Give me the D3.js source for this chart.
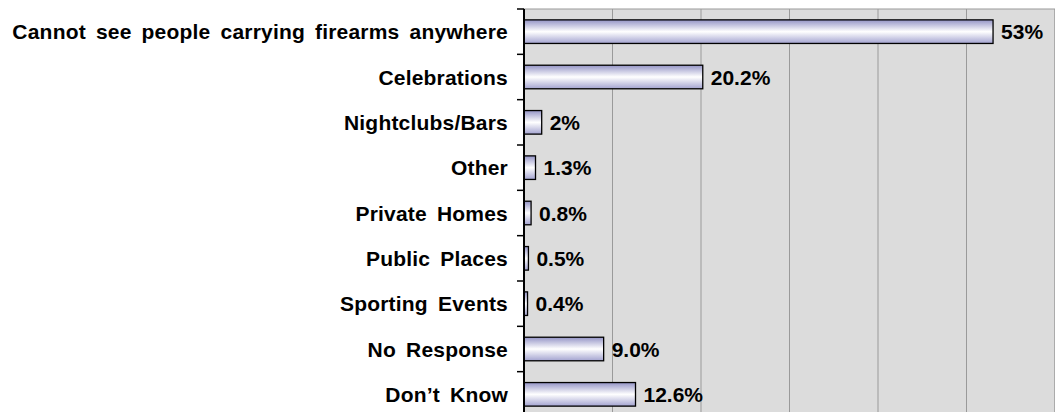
<!DOCTYPE html>
<html>
<head>
<meta charset="utf-8">
<script src="https://cdn.jsdelivr.net/npm/d3@7"></script>
<style>
  html, body { margin: 0; padding: 0; background: #fff; }
  svg { display: block; font-family: "Liberation Sans", Arial, sans-serif; }
</style>
</head>
<body>
<div id="chart"></div>
<script>
// categories and values
const categories = [
  'Cannot see people carrying firearms anywhere',
  'Celebrations',
  'Nightclubs/Bars',
  'Other',
  'Private Homes',
  'Public Places',
  'Sporting Events',
  'No Response',
  'Don\u2019t Know'
];
const values = [53, 20.2, 2, 1.3, 0.8, 0.5, 0.4, 9.0, 12.6];
const valueLabels = ['53%', '20.2%', '2%', '1.3%', '0.8%', '0.5%', '0.4%', '9.0%', '12.6%'];
const xTicks = [0, 10, 20, 30, 40, 50, 60];

const width = 1055, height = 412;
const margin = { top: 9, left: 524 };
const plotW = 531, plotH = 408;

const svg = d3.select('#chart').append('svg')
  .attr('width', width)
  .attr('height', height);

const defs = svg.append('defs');
const grad = defs.append('linearGradient')
  .attr('id', 'barGrad')
  .attr('x1', 0).attr('y1', 0).attr('x2', 0).attr('y2', 1);
grad.append('stop').attr('offset', '0%').attr('stop-color', '#9494c6');
grad.append('stop').attr('offset', '50%').attr('stop-color', '#ffffff');
grad.append('stop').attr('offset', '100%').attr('stop-color', '#a3a3d0');

const x = d3.scaleLinear().domain([0, 60]).range([0, plotW]);
const y = d3.scaleBand().domain(categories).range([0, plotH]).paddingInner(0.48).paddingOuter(0.24);

const g = svg.append('g').attr('transform', `translate(${margin.left},${margin.top})`);

// plot background
g.append('rect')
  .attr('width', plotW).attr('height', plotH)
  .attr('fill', '#dcdcdc')
  .attr('stroke', '#9a9a9a');

// vertical gridlines
g.selectAll('.grid')
  .data(xTicks.slice(1))
  .enter().append('line')
  .attr('class', 'grid')
  .attr('x1', d => x(d)).attr('x2', d => x(d))
  .attr('y1', 0).attr('y2', plotH)
  .attr('stroke', '#9a9a9a')
  .attr('stroke-width', 1);

// bars
g.selectAll('.bar')
  .data(values)
  .enter().append('rect')
  .attr('class', 'bar')
  .attr('x', x(0))
  .attr('y', (d, i) => y(categories[i]))
  .attr('width', d => x(d))
  .attr('height', y.bandwidth())
  .attr('fill', 'url(#barGrad)')
  .attr('stroke', '#000')
  .attr('stroke-width', 1.3);

// value labels
g.selectAll('.val')
  .data(values)
  .enter().append('text')
  .attr('class', 'val')
  .attr('x', d => x(d) + 8)
  .attr('y', (d, i) => y(categories[i]) + y.bandwidth() / 2)
  .attr('dy', '0.36em')
  .attr('font-size', 21)
  .attr('font-weight', 'bold')
  .attr('fill', '#000')
  .text((d, i) => valueLabels[i]);

// category axis with ticks on band edges
const yAxis = g.append('g');
yAxis.append('line')
  .attr('x1', 0).attr('x2', 0)
  .attr('y1', 0).attr('y2', plotH)
  .attr('stroke', '#000').attr('stroke-width', 2);

const edges = categories.map(c => y(c) - y.step() * y.paddingInner() / 2);
edges.push(plotH);
yAxis.selectAll('.tick')
  .data(edges)
  .enter().append('line')
  .attr('x1', -7).attr('x2', 0)
  .attr('y1', d => d).attr('y2', d => d)
  .attr('stroke', '#000').attr('stroke-width', 1.5);

yAxis.selectAll('.lbl')
  .data(categories)
  .enter().append('text')
  .attr('x', -16)
  .attr('y', d => y(d) + y.bandwidth() / 2)
  .attr('dy', '0.36em')
  .attr('text-anchor', 'end')
  .attr('font-size', 21)
  .attr('font-weight', 'bold')
  .attr('letter-spacing', 0.2)
  .attr('word-spacing', 4)
  .attr('fill', '#000')
  .text(d => d);
</script>
</body>
</html>
